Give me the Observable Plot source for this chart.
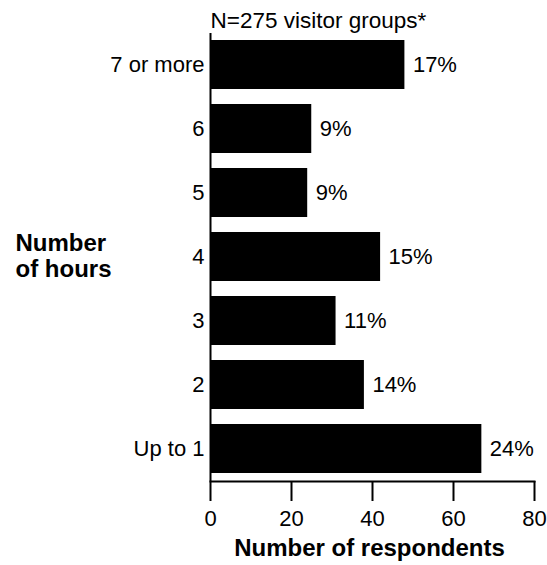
<!DOCTYPE html>
<html>
<head>
<meta charset="utf-8">
<script src="https://cdn.jsdelivr.net/npm/d3@7"></script>
<script src="https://cdn.jsdelivr.net/npm/@observablehq/plot@0.6"></script>
<style>
  html, body { margin: 0; padding: 0; background: #fff; }
</style>
</head>
<body>
<div id="chart"></div>
<script>
const hours = ["7 or more", "6", "5", "4", "3", "2", "Up to 1"];
const counts = [48, 25, 24, 42, 31, 38, 67];
const percents = ["17%", "9%", "9%", "15%", "11%", "14%", "24%"];
const xTicks = [0, 20, 40, 60, 80];
const subtitle = "N=275 visitor groups*";
const yTitle = "Number\nof hours";
const xTitle = "Number of respondents";

const data = hours.map((h, i) => ({hours: h, count: counts[i], pct: percents[i]}));

const chart = Plot.plot({
  width: 547,
  height: 565,
  marginLeft: 210,
  marginRight: 13,
  marginTop: 33,
  marginBottom: 84,
  style: {fontFamily: "Arial, 'Liberation Sans', sans-serif", fontSize: "22px", color: "#000", background: "#fff"},
  x: {domain: [0, 80]},
  y: {domain: hours, paddingInner: 0.23, paddingOuter: 0.115},
  marks: [
    Plot.barX(data, {x: "count", y: "hours", fill: "#000"}),
    Plot.text(data, {x: "count", y: "hours", text: "pct", dx: 8, textAnchor: "start", fontSize: 22, fill: "#000"}),
    Plot.frame({anchor: "bottom", stroke: "#000", strokeWidth: 2}),
    Plot.ruleX([0], {stroke: "#000", strokeWidth: 2}),
    Plot.axisX({ticks: xTicks, tickSize: 20, tickPadding: 9, fontSize: 22, strokeWidth: 2, label: null, tickFormat: d => d}),
    Plot.axisY({tickSize: 0, tickPadding: 6, fontSize: 22, label: null}),
    Plot.text([subtitle], {frameAnchor: "top-left", textAnchor: "start", lineAnchor: "bottom", dy: -6, fontSize: 22.5, fill: "#000"}),
    Plot.text([yTitle], {frameAnchor: "left", textAnchor: "start", lineAnchor: "middle", dx: -195, dy: -2, fontSize: 24, fontWeight: "bold", lineHeight: 1.1, fill: "#000"}),
    Plot.text([xTitle], {frameAnchor: "bottom", textAnchor: "middle", lineAnchor: "bottom", dy: 74, dx: -3, fontSize: 24, fontWeight: "bold", fill: "#000"})
  ]
});
document.getElementById("chart").appendChild(chart);
</script>
</body>
</html>
